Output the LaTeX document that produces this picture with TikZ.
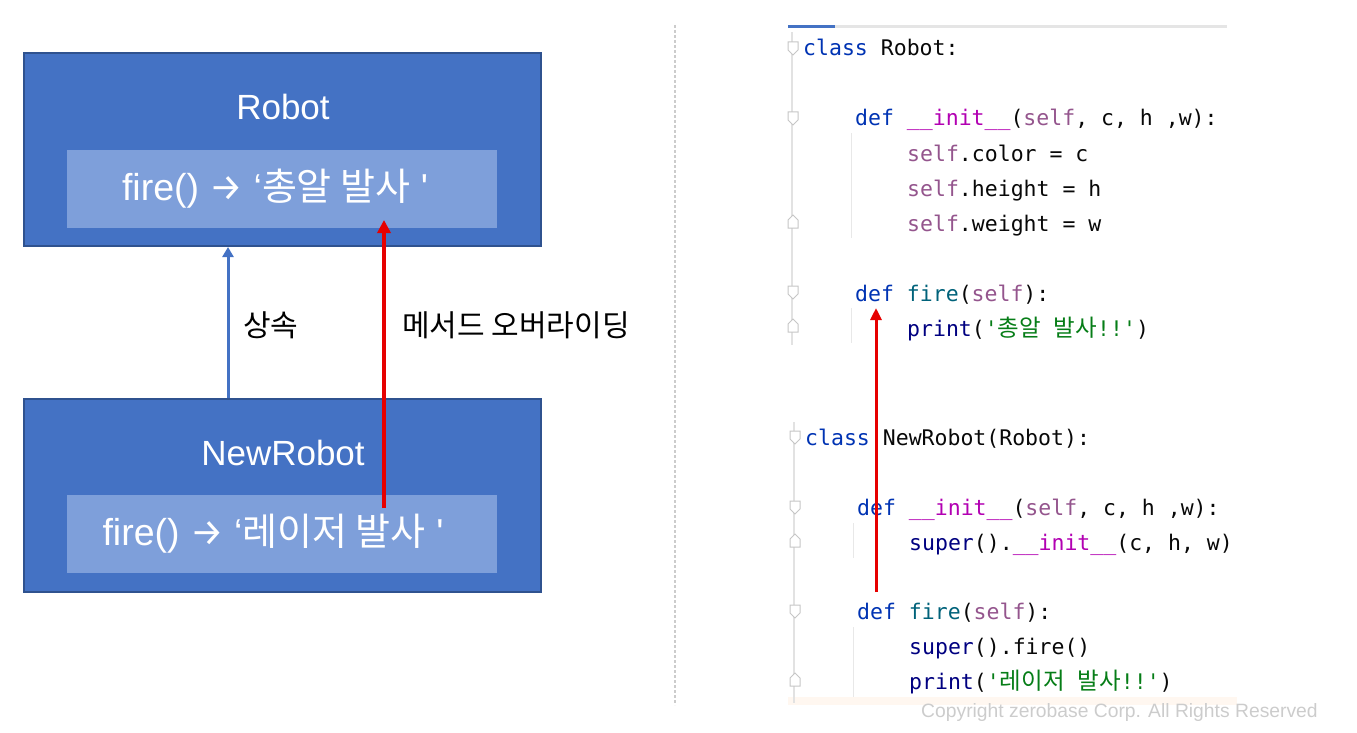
\documentclass[tikz,border=0pt]{standalone}
\usepackage{fontspec}
\setmainfont{Liberation Sans}
\setmonofont{DejaVu Sans Mono}
\newfontfamily\kr{Noto Sans CJK KR}
\newfontfamily\symf{Fira Sans}
\usetikzlibrary{positioning,arrows.meta}

\definecolor{boxblue}{RGB}{68,114,196}
\definecolor{boxedge}{RGB}{47,82,143}
\definecolor{innerblue}{RGB}{126,159,218}
\definecolor{arrred}{RGB}{230,0,0}
\definecolor{gutter}{RGB}{226,226,226}
\definecolor{kwblue}{RGB}{0,51,179}
\definecolor{magic}{RGB}{178,0,178}
\definecolor{selfc}{RGB}{148,85,141}
\definecolor{fnc}{RGB}{0,98,122}
\definecolor{strc}{RGB}{6,125,23}
\definecolor{bic}{RGB}{0,0,128}
\definecolor{codeblack}{RGB}{8,8,8}

% colouring of code words
\newcommand\ckw[1]{\textcolor{kwblue}{#1}}
\newcommand\cmg[1]{\textcolor{magic}{#1}}
\newcommand\cslf[1]{\textcolor{selfc}{#1}}
\newcommand\cfn[1]{\textcolor{fnc}{#1}}
\newcommand\cstr[1]{\textcolor{strc}{#1}}
\newcommand\cbi[1]{\textcolor{bic}{#1}}
\newcommand\ckr[1]{{\kr\fontsize{23.5}{26}\selectfont #1}}
\newcommand\bkr[1]{{\kr\fontsize{38}{40}\selectfont #1}}

\tikzset{
  classbox/.style={draw=boxedge, line width=2pt, fill=boxblue,
    minimum width=517, minimum height=193, inner sep=0},
  methodbox/.style={fill=innerblue, minimum width=430, minimum height=78, inner sep=0},
  methodtext/.style={text=white, inner sep=0, font=\fontsize{37.5}{40}\selectfont},
  classname/.style={text=white, inner sep=0, font=\fontsize{35}{40}\selectfont},
  relabel/.style={anchor=west, inner sep=0, font=\kr\fontsize{30}{34}\selectfont},
  codeline/.style={anchor=base west, inner sep=0, text=codeblack,
    font=\ttfamily\fontsize{21.5}{26}\selectfont},
  inharrow/.style={draw=boxblue, line width=3pt, -{Triangle[width=11pt,length=10pt]}},
  ovrarrow/.style={draw=arrred, line width=3.5pt, -{Triangle[width=13pt,length=13pt]}},
  foldmark/.style={draw=gray!45, line width=1pt, fill=white},
}

\begin{document}
\begin{tikzpicture}[x=1pt,y=-1pt]
\useasboundingbox (0,0) rectangle (1357,733);

% left: class boxes
\node[classbox] (robot) at (282.5,149.5) {};
\node[classname] (robotname) at (283,107) {Robot};
\node[methodbox] (robotfire) at (282,189) {};
\node[methodtext] (robotfiretext) at (275,189)
  {fire() {\symf →} ‘\bkr{총알 발사} \textquotesingle};

\node[classbox] (newrobot) at (282.5,495) {};
\node[classname] (newrobotname) at (283,453) {NewRobot};
\node[methodbox] (newrobotfire) at (282,534) {};
\node[methodtext] (newrobotfiretext) at (273,534)
  {fire() {\symf →} ‘\bkr{레이저 발사} \textquotesingle};

% arrows
\coordinate (inh) at (228,0);
\draw[inharrow] (inh |- newrobot.north) -- (inh |- robot.south);
\node[relabel] (inhlabel) at (243,325) {상속};

\coordinate (ovrfrom) at (384,508);
\coordinate (ovrto) at (384,220);
\draw[ovrarrow] (ovrfrom) -- (ovrto);
\node[relabel] (ovrlabel) at (402,325) {메서드 오버라이딩};

% separator
\draw[gray!40, line width=1.5pt, dash pattern=on 3pt off 2pt] (675,25) -- (675,705);

% right: code editor
\draw[gray!20, line width=3pt] (788,27) -- (1227,27);
\draw[boxblue, line width=3pt] (788,27) -- (835,27);
\fill[orange!6] (788,697) rectangle (1237,705);
\draw[gutter, line width=2.5pt] (792,32) -- (792,345);
\draw[gutter, line width=2.5pt] (794,422) -- (794,703);
\draw[gray!18, line width=1pt] (851,133) -- (851,238);
\draw[gray!18, line width=1pt] (851,308) -- (851,343);
\draw[gray!18, line width=1pt] (853,523) -- (853,558);
\draw[gray!18, line width=1pt] (853,627) -- (853,697);

% fold markers
\foreach \x/\y in {793/48, 793/118, 793/292, 795/437, 795/507, 795/611}
  \draw[foldmark] (\x-5,\y-6) -- (\x+5,\y-6) -- (\x+5,\y+2) -- (\x,\y+7) -- (\x-5,\y+2) -- cycle;
\foreach \x/\y in {793/222, 793/326, 795/541, 795/680}
  \draw[foldmark] (\x-5,\y+6) -- (\x+5,\y+6) -- (\x+5,\y-2) -- (\x,\y-7) -- (\x-5,\y-2) -- cycle;

\node[codeline] (l1) at (803,56) {\ckw{class} Robot:};
\node[codeline] (l2) at (855,126) {\ckw{def} \cmg{\_\_init\_\_}(\cslf{self}, c, h ,w):};
\node[codeline] (l3) at (907,161) {\cslf{self}.color = c};
\node[codeline] (l4) at (907,196) {\cslf{self}.height = h};
\node[codeline] (l5) at (907,231) {\cslf{self}.weight = w};
\node[codeline] (l6) at (855,301) {\ckw{def} \cfn{fire}(\cslf{self}):};
\node[codeline] (l7) at (907,336) {\cbi{print}(\cstr{'\ckr{총알} \ckr{발사}!!'})};

\node[codeline] (l8) at (805,445) {\ckw{class} NewRobot(Robot):};
\node[codeline] (l9) at (857,515) {\ckw{def} \cmg{\_\_init\_\_}(\cslf{self}, c, h ,w):};
\node[codeline] (l10) at (909,550) {\cbi{super}().\cmg{\_\_init\_\_}(c, h, w)};
\node[codeline] (l11) at (857,619) {\ckw{def} \cfn{fire}(\cslf{self}):};
\node[codeline] (l12) at (909,654) {\cbi{super}().fire()};
\node[codeline] (l13) at (909,689) {\cbi{print}(\cstr{'\ckr{레이저} \ckr{발사}!!'})};

\coordinate (codefrom) at (876,592);
\coordinate (codeto) at (876,308);
\draw[ovrarrow, line width=3pt, -{Triangle[width=11pt,length=12pt]}] (codefrom) -- (codeto);

\node[anchor=west, inner sep=0, text=gray!40, font=\fontsize{19.3}{22}\selectfont]
  (copyright) at (921,713) {Copyright zerobase Corp. All Rights Reserved};
\end{tikzpicture}
\end{document}
